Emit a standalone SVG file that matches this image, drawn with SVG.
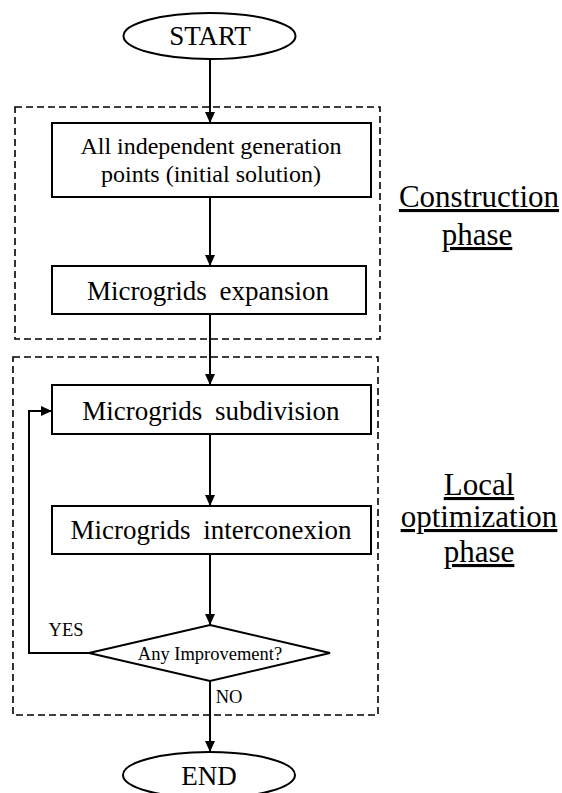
<svg xmlns="http://www.w3.org/2000/svg" width="562" height="793" viewBox="0 0 562 793">
<style>
.shape{fill:#fff;stroke:#000;stroke-width:2}
.dash{fill:none;stroke:#000;stroke-width:1.6;stroke-dasharray:7 4}
.edge{fill:none;stroke:#000;stroke-width:2}
text{fill:#000;text-anchor:middle}
.t24{font-size:24px}
.t27{font-size:27px;word-spacing:6px}
.small{font-size:18.5px}
.phase{font-size:31px;text-decoration:underline}
</style>
<defs>
<marker id="arr" markerWidth="12" markerHeight="12" refX="11" refY="5" orient="auto" markerUnits="userSpaceOnUse">
<path d="M0,0 L11,5 L0,10 Z" fill="#000"/>
</marker>
</defs>
<g font-family="'Liberation Serif', 'Times New Roman', Times, serif">
<g id="clusters">
<rect class="dash" x="15" y="107" width="365" height="232"/>
<rect class="dash" x="13" y="357" width="365" height="358"/>
</g>
<g id="connectors">
<line class="edge" x1="210" y1="59" x2="210" y2="123" marker-end="url(#arr)"/>
<line class="edge" x1="210" y1="197" x2="210" y2="266" marker-end="url(#arr)"/>
<line class="edge" x1="210" y1="314" x2="210" y2="385" marker-end="url(#arr)"/>
<line class="edge" x1="210" y1="434" x2="210" y2="506" marker-end="url(#arr)"/>
<line class="edge" x1="210" y1="554" x2="210" y2="625" marker-end="url(#arr)"/>
<polyline class="edge" points="89,653 29,653 29,411 52,411" marker-end="url(#arr)"/>
<line class="edge" x1="210" y1="681" x2="210" y2="752" marker-end="url(#arr)"/>
<text class="small" x="66" y="636">YES</text>
<text class="small" x="229" y="703">NO</text>
</g>
<g id="start">
<ellipse class="shape" cx="209.5" cy="36" rx="86" ry="23"/>
<text x="210" y="45" font-size="27">START</text>
</g>
<g id="initial">
<rect class="shape" x="52" y="123" width="319" height="74"/>
<text class="t24" x="211" y="154">All independent generation</text>
<text class="t24" x="211" y="182">points (initial solution)</text>
</g>
<g id="expansion">
<rect class="shape" x="52" y="266" width="314" height="48"/>
<text class="t27" x="208" y="300">Microgrids expansion</text>
</g>
<g id="subdivision">
<rect class="shape" x="52" y="385" width="319" height="49"/>
<text class="t27" x="211" y="420">Microgrids subdivision</text>
</g>
<g id="interconexion">
<rect class="shape" x="52" y="506" width="319" height="48"/>
<text class="t27" x="211" y="539">Microgrids interconexion</text>
</g>
<g id="decision">
<polygon class="shape" points="210,625 330,653 210,681 89,653"/>
<text class="small" x="210" y="660">Any Improvement?</text>
</g>
<g id="end">
<ellipse class="shape" cx="209" cy="775" rx="86" ry="23"/>
<text x="209" y="785" font-size="27">END</text>
</g>
<g id="labels">
<text class="phase" x="479" y="207">Construction</text>
<text class="phase" x="477" y="245">phase</text>
<text class="phase" x="479" y="495">Local</text>
<text class="phase" x="479" y="527">optimization</text>
<text class="phase" x="479" y="562">phase</text>
</g>
</g>
</svg>
